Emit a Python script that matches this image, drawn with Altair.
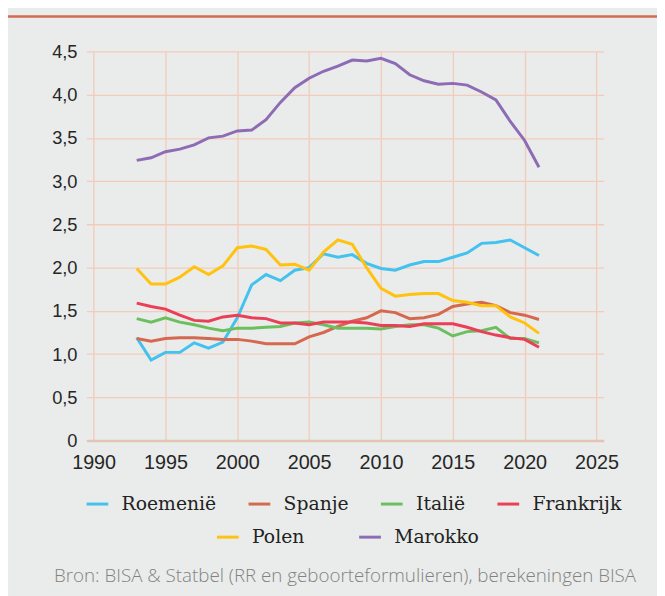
import altair as alt
import pandas as pd

years = list(range(1993, 2022))

roemenie = [1.19, 0.93, 1.02, 1.02, 1.13, 1.07, 1.14, 1.42, 1.80, 1.92,
            1.85, 1.97, 2.00, 2.16, 2.12, 2.15, 2.05, 1.99, 1.97, 2.03,
            2.07, 2.07, 2.12, 2.17, 2.28, 2.29, 2.32, 2.23, 2.14]
spanje = [1.18, 1.15, 1.18, 1.19, 1.19, 1.18, 1.17, 1.17, 1.15, 1.12,
          1.12, 1.12, 1.20, 1.25, 1.32, 1.38, 1.42, 1.50, 1.48, 1.41,
          1.42, 1.46, 1.55, 1.58, 1.60, 1.56, 1.48, 1.45, 1.40]
italie = [1.41, 1.37, 1.42, 1.37, 1.34, 1.30, 1.27, 1.30, 1.30, 1.31,
          1.32, 1.36, 1.37, 1.34, 1.30, 1.30, 1.30, 1.29, 1.32, 1.34,
          1.34, 1.30, 1.21, 1.26, 1.27, 1.31, 1.18, 1.18, 1.13]
frankrijk = [1.59, 1.55, 1.52, 1.45, 1.39, 1.38, 1.43, 1.45, 1.42, 1.41,
             1.36, 1.36, 1.34, 1.37, 1.37, 1.37, 1.36, 1.33, 1.33, 1.32,
             1.35, 1.35, 1.35, 1.31, 1.26, 1.22, 1.19, 1.17, 1.08]
polen = [1.99, 1.81, 1.81, 1.89, 2.01, 1.92, 2.02, 2.23, 2.25, 2.21,
         2.03, 2.04, 1.97, 2.18, 2.32, 2.27, 2.00, 1.76, 1.67, 1.69,
         1.70, 1.70, 1.62, 1.60, 1.56, 1.56, 1.43, 1.36, 1.24]
marokko = [3.24, 3.27, 3.34, 3.37, 3.42, 3.50, 3.52, 3.58, 3.59, 3.71,
           3.91, 4.08, 4.19, 4.27, 4.33, 4.40, 4.39, 4.42, 4.36, 4.23,
           4.16, 4.12, 4.13, 4.11, 4.03, 3.94, 3.69, 3.47, 3.16]

series_a = ["Roemenië", "Spanje", "Italië", "Frankrijk"]
colors_a = ["#43c1ef", "#d4694f", "#6cbf5f", "#eb3e57"]
series_b = ["Polen", "Marokko"]
colors_b = ["#ffc20e", "#8e6bb5"]

x_ticks = [1990, 1995, 2000, 2005, 2010, 2015, 2020, 2025]
y_ticks = [0, 0.5, 1.0, 1.5, 2.0, 2.5, 3.0, 3.5, 4.0, 4.5]

source_text = "Bron: BISA & Statbel (RR en geboorteformulieren), berekeningen BISA"

all_series = {
    "Roemenië": roemenie, "Spanje": spanje, "Italië": italie,
    "Frankrijk": frankrijk, "Polen": polen, "Marokko": marokko,
}
rows = []
for name, vals in all_series.items():
    for yr, v in zip(years, vals):
        rows.append({"land": name, "jaar": yr, "waarde": v})
df = pd.DataFrame(rows)

grid_color = "#f3cbbb"

xenc = alt.X(
    "jaar:Q",
    scale=alt.Scale(domain=[1989.5, 2025.5], nice=False, zero=False),
    axis=alt.Axis(
        values=x_ticks, format="d", title=None, ticks=False, tickSize=0,
        grid=True, gridColor=grid_color, gridWidth=1.3,
        domain=True, domainColor="#e4c4b5", domainWidth=2.5,
        labelFont="Liberation Sans", labelFontSize=20, labelColor="#262626",
        labelPadding=12, labelFlush=False, labelOverlap=False,
    ),
)
yenc = alt.Y(
    "waarde:Q",
    scale=alt.Scale(domain=[0, 4.5], nice=False),
    axis=alt.Axis(
        values=y_ticks, title=None, ticks=False, tickSize=0, domain=False,
        grid=True, gridColor=grid_color, gridWidth=1.3,
        labelExpr="datum.value == 0 ? '0' : replace(format(datum.value, '.1f'), '.', ',')",
        labelFont="Liberation Sans", labelFontSize=18.5, labelColor="#262626",
        labelPadding=9.5, labelOverlap=False,
    ),
)

legend_common = dict(
    title=None, orient="none", direction="horizontal",
    symbolType="stroke", symbolSize=484, symbolStrokeWidth=3,
    labelFont="DejaVu Serif", labelFontSize=19, labelColor="#222222",
    labelOffset=12, padding=0, rowPadding=0,
)

base = alt.Chart(df)

lines_a = base.transform_filter(
    alt.FieldOneOfPredicate(field="land", oneOf=series_a)
).mark_line(strokeWidth=3).encode(
    x=xenc, y=yenc,
    color=alt.Color(
        "land:N", scale=alt.Scale(domain=series_a, range=colors_a),
        legend=alt.Legend(columns=4, columnPadding=26, legendX=-1.4, legendY=445.5,
                          **legend_common),
    ),
)

lines_b = base.transform_filter(
    alt.FieldOneOfPredicate(field="land", oneOf=series_b)
).mark_line(strokeWidth=3).encode(
    x=xenc, y=yenc,
    stroke=alt.Stroke(
        "land:N", scale=alt.Scale(domain=series_b, range=colors_b),
        legend=alt.Legend(columns=2, columnPadding=48, legendX=130.6, legendY=479,
                          **legend_common),
    ),
)

top_rule = alt.Chart(pd.DataFrame({"d": [0]})).mark_rule(
    color="#d36a52", strokeWidth=2.5
).encode(x=alt.value(-82), x2=alt.value(580), y=alt.value(-35.3))

chart = alt.layer(lines_a, lines_b, top_rule).properties(
    width=523.6,
    height=394,
    autosize=alt.AutoSizeParams(type="none"),
    padding={"left": 79.4, "top": 40.3, "right": 54, "bottom": 153.7},
    title=alt.TitleParams(
        source_text, orient="bottom", anchor="middle", font="Open Sans",
        fontSize=19, fontWeight=300, color="#828282", offset=20,
    ),
).configure(background="#e9ecea").configure_view(stroke=None)

chart.save("out.html", embed_options={"renderer": "svg", "actions": False})
